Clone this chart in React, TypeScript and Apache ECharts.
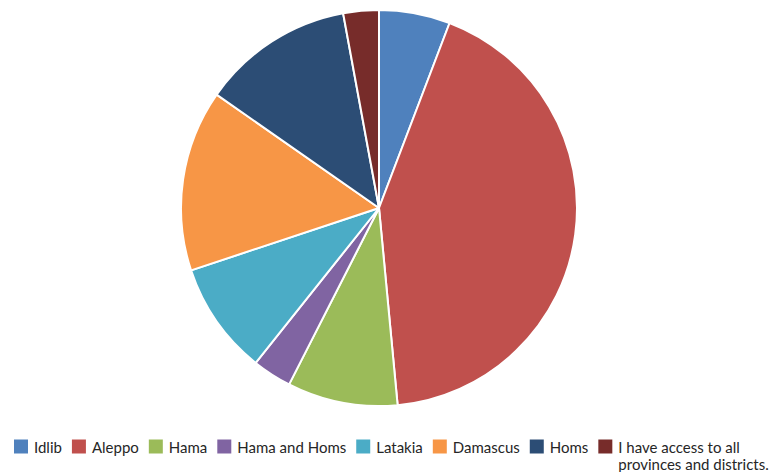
import React, { useEffect, useRef } from "react";
import * as echarts from "echarts";

const categories = [
  "Idlib",
  "Aleppo",
  "Hama",
  "Hama and Homs",
  "Latakia",
  "Damascus",
  "Homs",
  "I have access to all\nprovinces and districts.",
];
const values = [5.8, 42.7, 9.0, 3.2, 9.2, 14.8, 12.4, 2.9];
const colors = ["#4F81BD", "#C0504D", "#9BBB59", "#8064A2", "#4BACC6", "#F79646", "#2C4D75", "#772C2A"];

export default function App() {
  const ref = useRef<HTMLDivElement>(null);
  useEffect(() => {
    if (!ref.current) return;
    const chart = echarts.init(ref.current, undefined, { renderer: "svg" });
    chart.setOption({
      animation: false,
      color: colors,
      legend: {
        left: 7,
        top: 416,
        width: 800,
        padding: 5,
        itemWidth: 16,
        itemHeight: 16,
        itemGap: 8,
        icon: "rect",
        formatter: (name: string) => (name.indexOf("\n") >= 0 ? "\n" + name : name),
        textStyle: {
          fontFamily: "Lato",
          fontSize: 15,
          color: "#262626",
          lineHeight: 17,
        },
        data: categories,
      },
      series: [
        {
          type: "pie",
          center: [379, 208],
          radius: 198,
          startAngle: 90,
          clockwise: true,
          label: { show: false },
          labelLine: { show: false },
          emphasis: { disabled: true },
          itemStyle: { borderColor: "#fff", borderWidth: 2 },
          data: categories.map((c, i) => ({ name: c, value: values[i] })),
        },
      ],
    });
    return () => chart.dispose();
  }, []);
  return (
    <div
      ref={ref}
      style={{ position: "absolute", left: 0, top: 0, width: 769, height: 472 }}
    />
  );
}
